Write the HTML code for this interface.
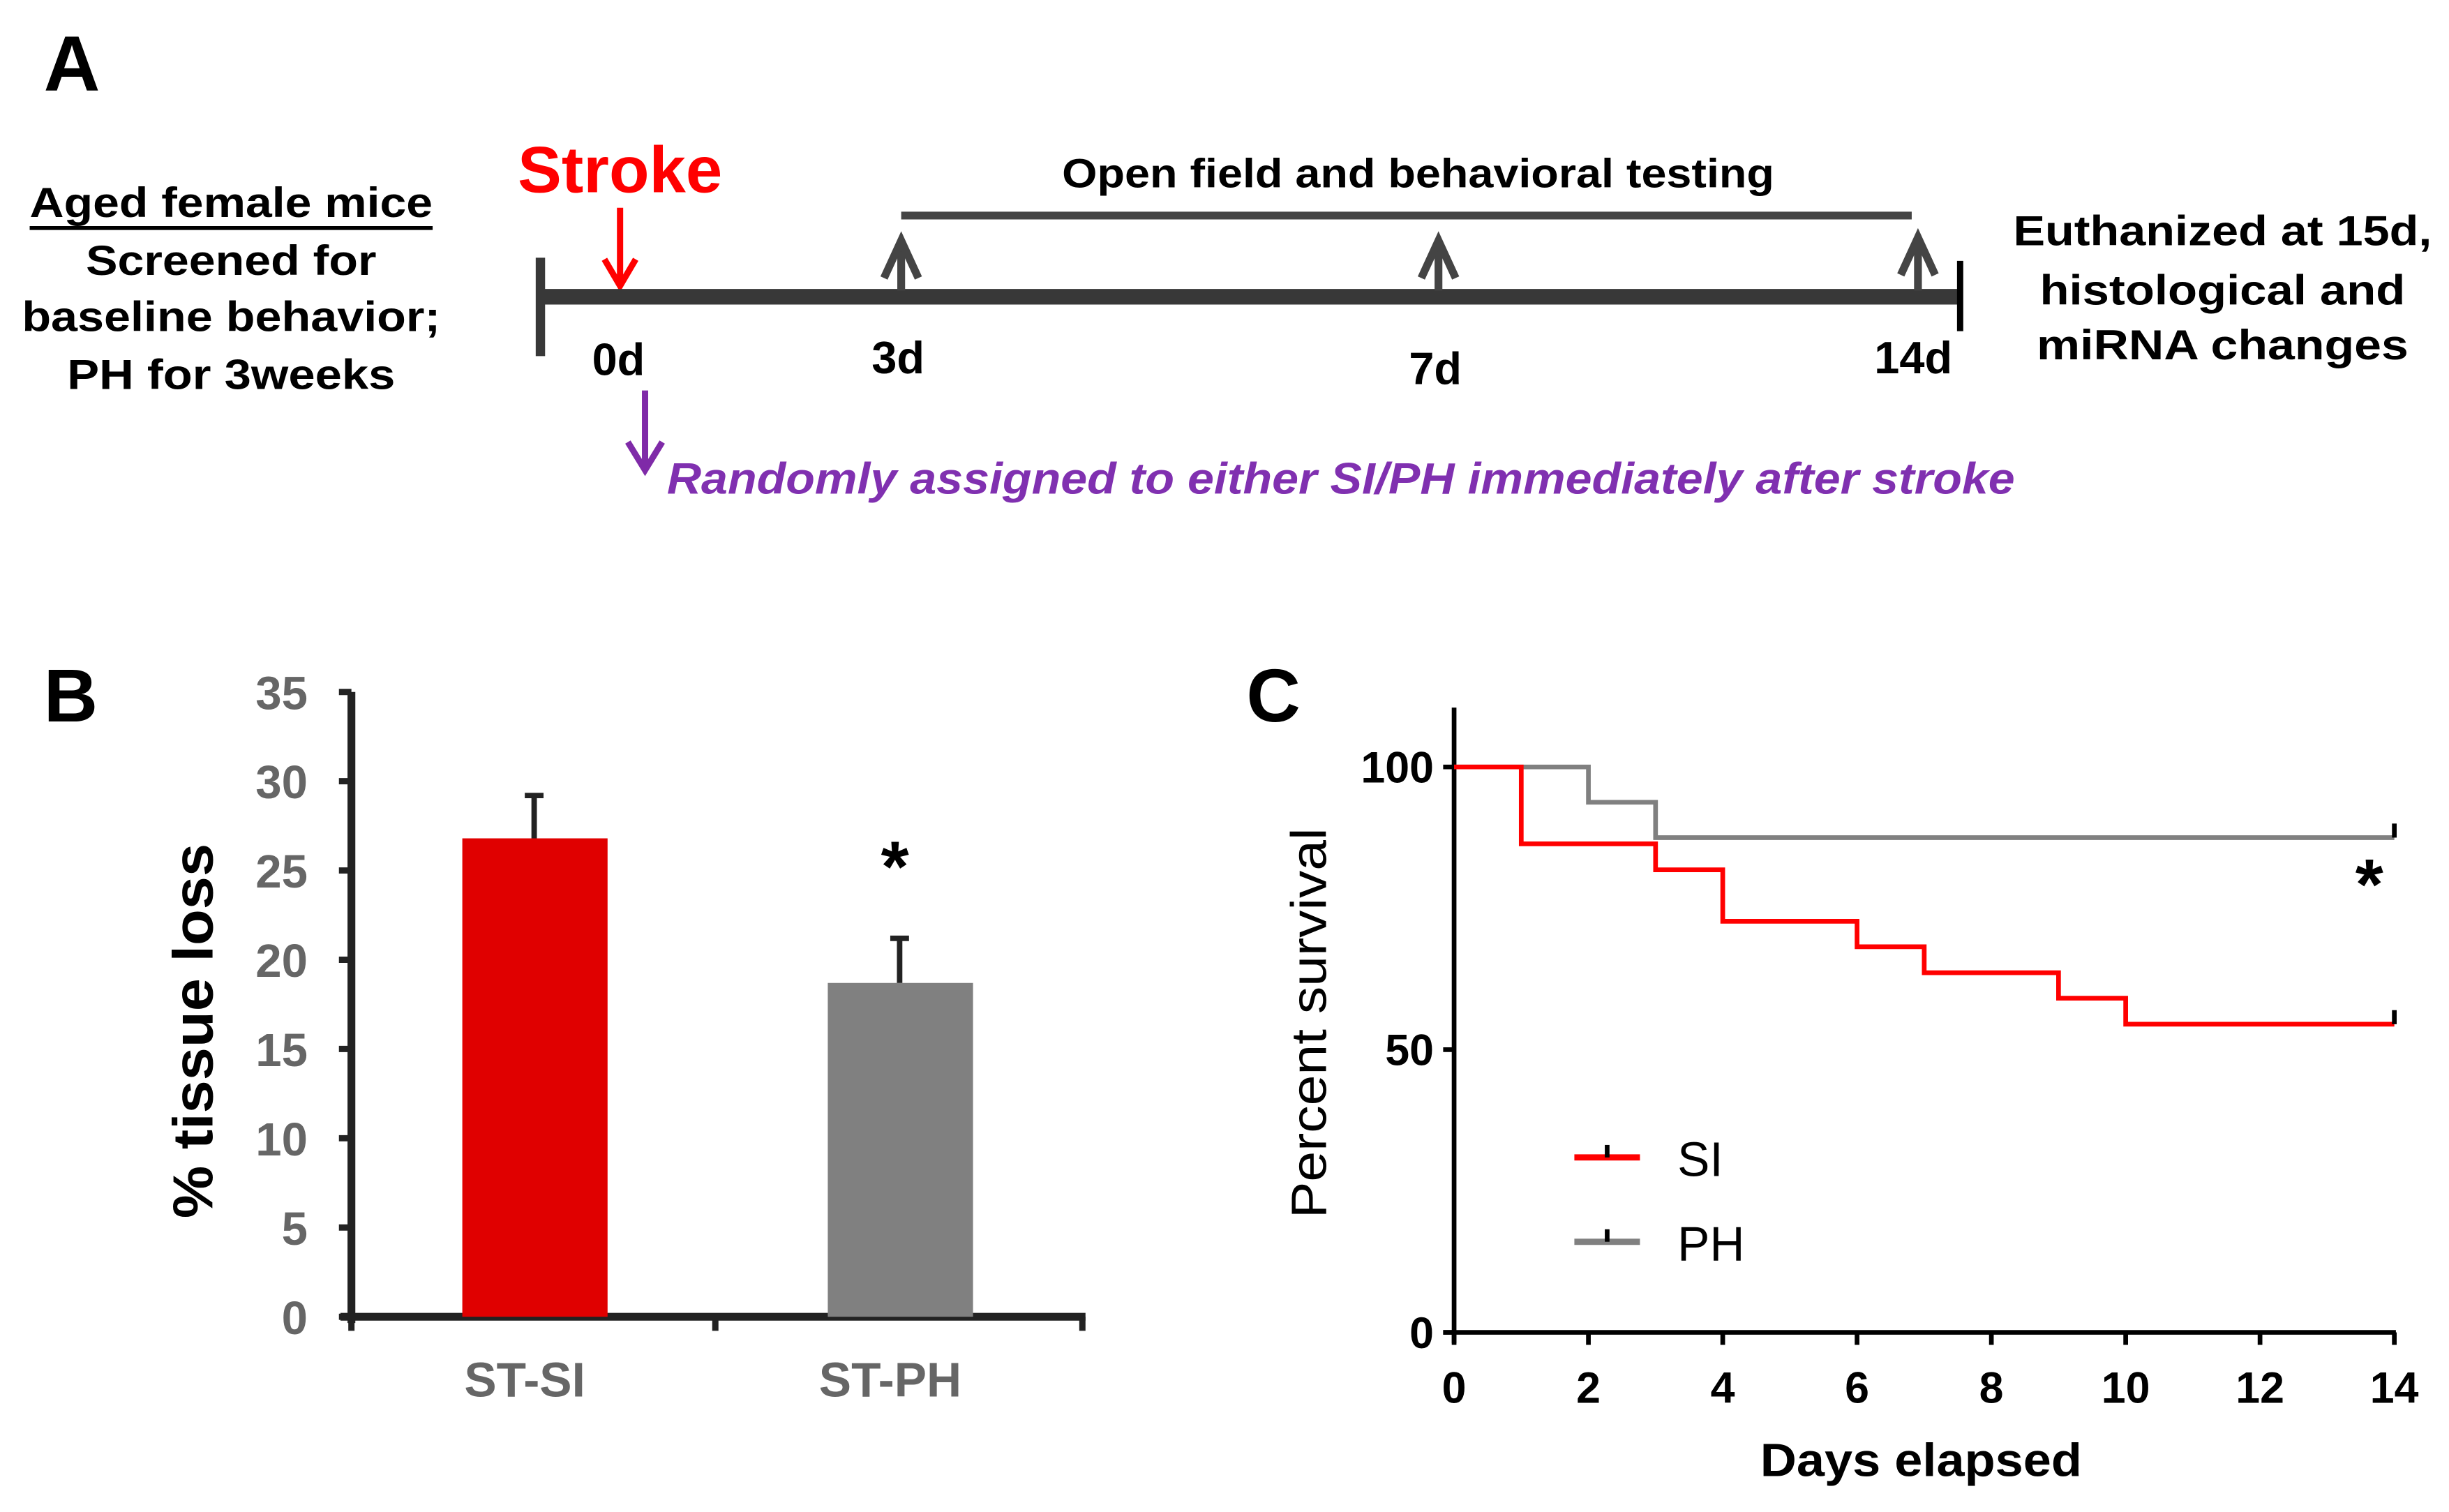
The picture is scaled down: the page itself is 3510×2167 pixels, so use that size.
<!DOCTYPE html>
<html><head><meta charset="utf-8"><style>
html,body{margin:0;padding:0;background:#fff;}
svg{display:block;font-family:"Liberation Sans",Arial,sans-serif;}
</style></head><body>
<svg id="fig" width="3510" height="2167" viewBox="0 0 1568 968" preserveAspectRatio="none" xmlns="http://www.w3.org/2000/svg">
<!-- Panel A -->
<g>
<text x="28" y="58" font-size="50" font-weight="bold">A</text>
<text x="397" y="123" font-size="42" font-weight="bold" fill="#f00" text-anchor="middle" textLength="131" lengthAdjust="spacingAndGlyphs">Stroke</text>
<line x1="397" y1="133" x2="397" y2="180" stroke="#f00" stroke-width="4"/>
<polyline points="387,166 397,183 407,166" fill="none" stroke="#f00" stroke-width="4"/>
<text x="908" y="120" font-size="26" font-weight="bold" text-anchor="middle" textLength="456" lengthAdjust="spacingAndGlyphs">Open field and behavioral  testing</text>
<line x1="577" y1="138" x2="1224" y2="138" stroke="#444" stroke-width="5"/>
<line x1="345" y1="190" x2="1255" y2="190" stroke="#383838" stroke-width="10"/>
<line x1="346" y1="165" x2="346" y2="228" stroke="#383838" stroke-width="6"/>
<line x1="1255" y1="167" x2="1255" y2="212" stroke="#000" stroke-width="4"/>
<g stroke="#444" stroke-width="5" fill="none">
<line x1="577" y1="186" x2="577" y2="154"/><polyline points="566,178 577,154 588,178"/>
<line x1="921" y1="186" x2="921" y2="154"/><polyline points="910,178 921,154 932,178"/>
<line x1="1228" y1="186" x2="1228" y2="152"/><polyline points="1217,176 1228,152 1239,176"/>
</g>
<g font-size="29" font-weight="bold" text-anchor="middle">
<text x="396" y="240">0d</text><text x="575" y="239">3d</text><text x="919" y="246">7d</text><text x="1225" y="239">14d</text>
</g>
<g font-size="27" font-weight="bold" text-anchor="middle">
<text x="148" y="139" textLength="258" lengthAdjust="spacingAndGlyphs">Aged female mice</text>
<line x1="19" y1="146" x2="277" y2="146" stroke="#000" stroke-width="2.5"/>
<text x="148" y="176" textLength="186" lengthAdjust="spacingAndGlyphs">Screened for</text>
<text x="148" y="212" textLength="268" lengthAdjust="spacingAndGlyphs">baseline behavior;</text>
<text x="148" y="249" textLength="210" lengthAdjust="spacingAndGlyphs">PH for 3weeks</text>
</g>
<g font-size="27" font-weight="bold" text-anchor="middle">
<text x="1423" y="157" textLength="268" lengthAdjust="spacingAndGlyphs">Euthanized at 15d,</text>
<text x="1423" y="195" textLength="234" lengthAdjust="spacingAndGlyphs">histological and</text>
<text x="1423" y="230" textLength="238" lengthAdjust="spacingAndGlyphs">miRNA changes</text>
</g>
<line x1="413" y1="250" x2="413" y2="298" stroke="#7f2aa8" stroke-width="4"/>
<polyline points="402,283 413,301 424,283" fill="none" stroke="#7f2aa8" stroke-width="4"/>
<text x="427" y="316" font-size="28" font-weight="bold" font-style="italic" fill="#8030b0" textLength="863" lengthAdjust="spacingAndGlyphs">Randomly assigned to either SI/PH immediately after stroke</text>
</g>

<!-- Panel B -->
<g id="pb">
<text x="28" y="462" font-size="48" font-weight="bold">B</text>
<text transform="translate(136,660) rotate(-90)" font-size="36" font-weight="bold" text-anchor="middle" textLength="240" lengthAdjust="spacingAndGlyphs">% tissue loss</text>
</g>

<!-- Panel C -->
<g id="pc">
<text x="798" y="462" font-size="48" font-weight="bold">C</text>
<text transform="translate(849,655) rotate(-90)" font-size="32" text-anchor="middle" textLength="250" lengthAdjust="spacingAndGlyphs">Percent survival</text>
<text x="1230" y="945" font-size="30" font-weight="bold" text-anchor="middle" textLength="206" lengthAdjust="spacingAndGlyphs">Days elapsed</text>
<text x="1517" y="582" font-size="46" font-weight="bold" text-anchor="middle">*</text>
</g>
</svg>
<script>
// ---- Panel B data ----
const bCategories = ["ST-SI", "ST-PH"];
const bValues = [26.8, 18.7];
const bErrors = [2.4, 2.5];
const bTicks = [0, 5, 10, 15, 20, 25, 30, 35];
// ---- Panel C data ----
const cTimes = [0, 2, 4, 6, 8, 10, 12, 14];
const cYTicks = [0, 50, 100];
const siDays = [0, 1, 3, 4, 6, 7, 9, 10, 14];
const siSurv = [100, 86.4, 81.8, 72.7, 68.2, 63.6, 59.1, 54.5, 54.5];
const phDays = [0, 2, 3, 14];
const phSurv = [100, 93.75, 87.5, 87.5];

const NS = "http://www.w3.org/2000/svg";
function mk(tag, attrs, parent, txt) {
  const e = document.createElementNS(NS, tag);
  for (const k in attrs) e.setAttribute(k, attrs[k]);
  if (txt !== undefined) e.textContent = txt;
  parent.appendChild(e);
  return e;
}
// Panel B
const pb = document.getElementById("pb");
const bY = v => 843 - (v / 35) * 400;
const bCenters = [342, 576];
const bColors = ["#e00000", "#808080"];
let ax = mk("line", {x1:225, y1:443, x2:225, y2:847, stroke:"#222", "stroke-width":5}, pb);


ax = mk("line", {x1:218, y1:843, x2:695, y2:843, stroke:"#222", "stroke-width":5}, pb);


[225, 458, 693].forEach(x => {
  const t = mk("line", {x1:x, y1:843, x2:x, y2:852, stroke:"#222", "stroke-width":4}, pb);
  
  
});
bTicks.forEach(v => {
  const t = mk("line", {x1:217, y1:bY(v), x2:225, y2:bY(v), stroke:"#222", "stroke-width":4}, pb);
  
  
  const l = mk("text", {x:197, y:bY(v)+11, "font-size":30, "font-weight":"bold", fill:"#666", "text-anchor":"end"}, pb, v);
  
  
});
bCategories.forEach((c, i) => {
  const x = bCenters[i];
  const r = mk("rect", {x:x-46, y:bY(bValues[i]), width:93, height:843-bY(bValues[i]), fill:bColors[i]}, pb);
  
  
  const top = bY(bValues[i] + bErrors[i]);
  const e = mk("path", {d:`M${x},${bY(bValues[i])} V${top} M${x-6},${top} H${x+6}`, stroke:"#222", "stroke-width":3.5, fill:"none"}, pb);
  
  
  const l = mk("text", {x:x-6, y:894, "font-size":31, "font-weight":"bold", fill:"#666", "text-anchor":"middle"}, pb, c);
  
  
});
const star = mk("text", {x:bCenters[1]-3, y:bY(bValues[1]+bErrors[1])-30, "font-size":46, "font-weight":"bold", "text-anchor":"middle"}, pb, "*");



// Panel C
const pc = document.getElementById("pc");
const cx = d => 931 + d * 43;
const cy = v => 853 - v * 3.62;
ax = mk("line", {x1:931, y1:453, x2:931, y2:860, stroke:"#000", "stroke-width":3}, pc);


ax = mk("line", {x1:924, y1:853, x2:1534, y2:853, stroke:"#000", "stroke-width":3}, pc);


cTimes.forEach(d => {
  const t = mk("line", {x1:cx(d), y1:853, x2:cx(d), y2:861, stroke:"#000", "stroke-width":3}, pc);
  
  
  const l = mk("text", {x:cx(d), y:898, "font-size":28, "font-weight":"bold", "text-anchor":"middle"}, pc, d);
  
  
});
cYTicks.forEach(v => {
  const t = mk("line", {x1:924, y1:cy(v), x2:931, y2:cy(v), stroke:"#000", "stroke-width":3}, pc);
  
  
  const l = mk("text", {x:918, y:cy(v)+10, "font-size":28, "font-weight":"bold", "text-anchor":"end"}, pc, v);
  
  
});
function stepPath(days, surv) {
  let d = `M${cx(days[0])},${cy(surv[0])}`;
  for (let i = 1; i < days.length; i++) d += ` H${cx(days[i])} V${cy(surv[i])}`;
  return d;
}
const php = mk("path", {d:stepPath(phDays, phSurv), stroke:"#808080", "stroke-width":3, fill:"none"}, pc);


const sip = mk("path", {d:stepPath(siDays, siSurv), stroke:"#f00", "stroke-width":3, fill:"none"}, pc);


[[phDays, phSurv], [siDays, siSurv]].forEach(([ds, ss]) => {
  const n = ds.length - 1;
  const t = mk("line", {x1:cx(ds[n]), y1:cy(ss[n]), x2:cx(ds[n]), y2:cy(ss[n])-9, stroke:"#000", "stroke-width":3}, pc);
  
  
});
[["SI", "#f00", 741], ["PH", "#808080", 795]].forEach(([n, col, y]) => {
  const g = mk("g", {}, pc);
  
  
  mk("line", {x1:1008, y1:y, x2:1050, y2:y, stroke:col, "stroke-width":4}, g);
  mk("line", {x1:1029, y1:y, x2:1029, y2:y-8, stroke:"#000", "stroke-width":3}, g);
  mk("text", {x:1074, y:y+12, "font-size":31}, g, n);
});
</script>
</body></html>
